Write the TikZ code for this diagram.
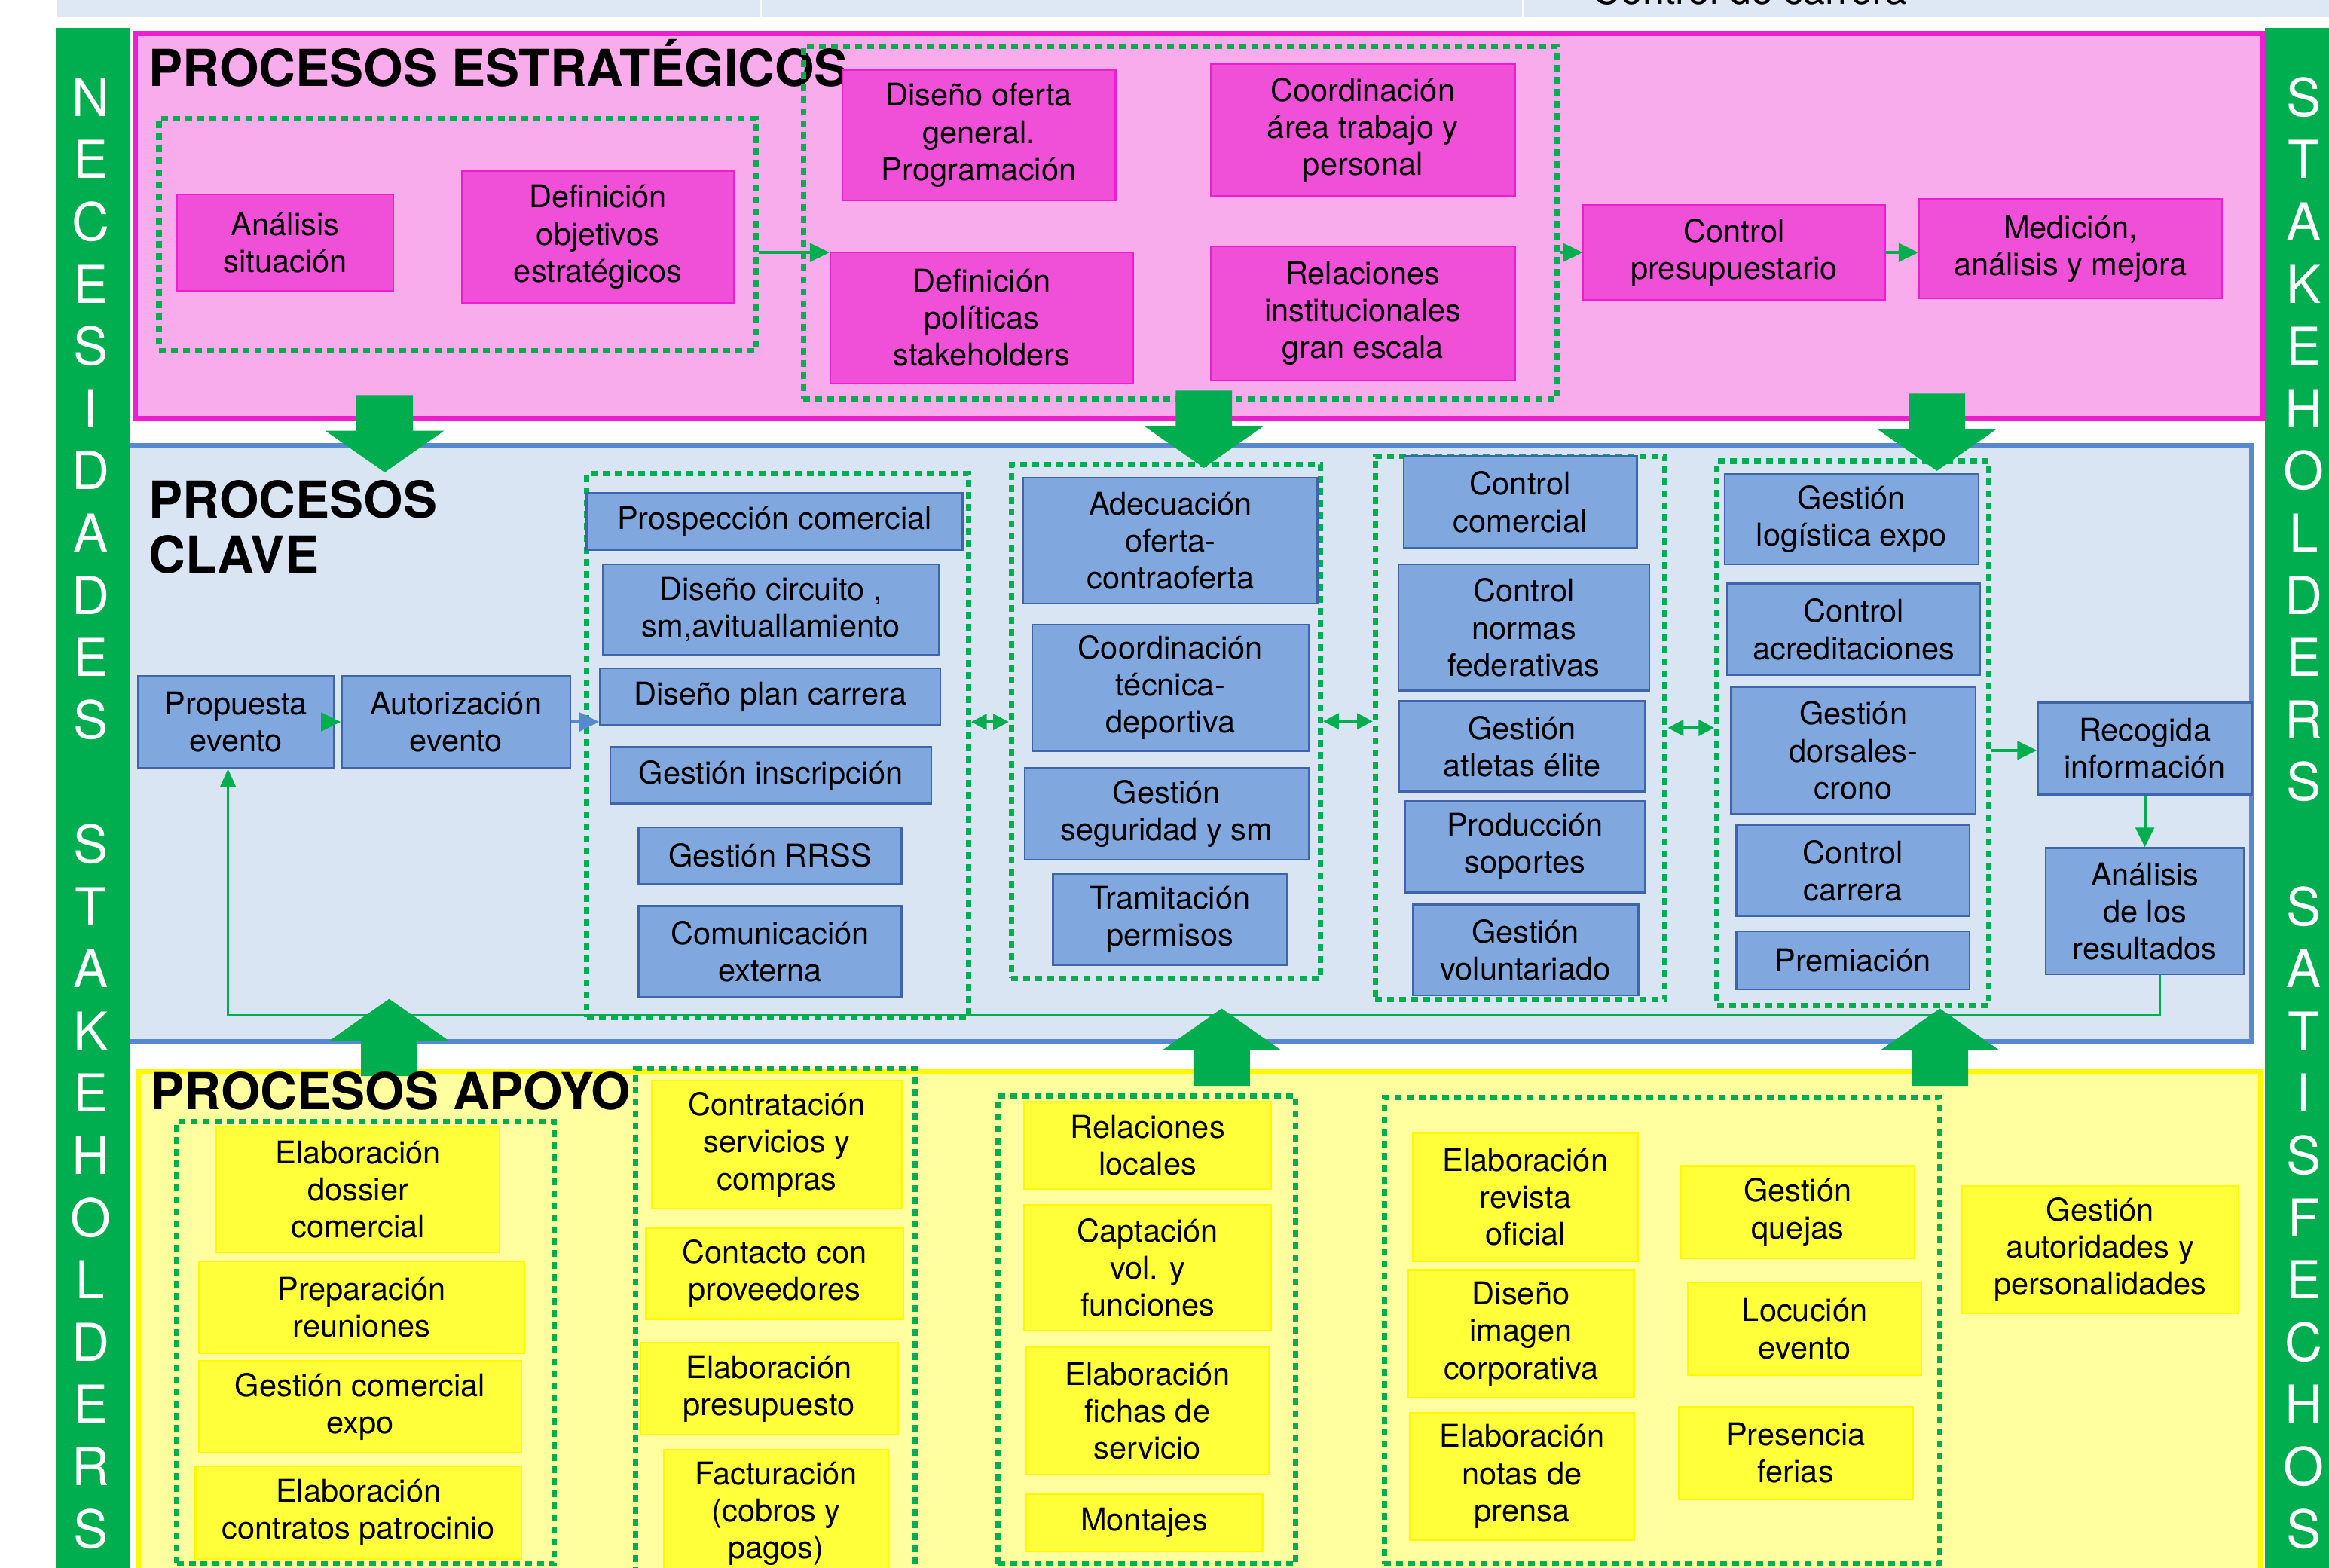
\documentclass[tikz,border=0pt]{standalone}
\usepackage{fontspec}
\setmainfont{TeX Gyre Heros}
\usetikzlibrary{arrows.meta,calc}

\definecolor{verde}{RGB}{0,173,79}
\definecolor{franja}{RGB}{221,232,244}
\definecolor{rosafondo}{RGB}{249,172,236}
\definecolor{rosaborde}{RGB}{238,30,206}
\definecolor{rosacaja}{RGB}{240,80,216}
\definecolor{azulfondo}{RGB}{218,229,243}
\definecolor{azulborde}{RGB}{87,137,209}
\definecolor{azulcaja}{RGB}{128,168,222}
\definecolor{azulfilo}{RGB}{62,100,170}
\definecolor{amarillofondo}{RGB}{255,255,160}
\definecolor{amarilloborde}{RGB}{255,248,0}
\definecolor{amarillocaja}{RGB}{255,255,58}

\tikzset{
	caja/.style={draw, align=center, inner sep=0pt, line width=0.6pt, font=\fontsize{12}{14.2}\selectfont},
	bx/.style 2 args={minimum width=#1*0.02cm, minimum height=#2*0.02cm},
	rosa/.style={caja, draw=rosaborde, fill=rosacaja},
	azul/.style={caja, draw=azulfilo, fill=azulcaja, line width=0.7pt},
	amarillo/.style={caja, draw=amarilloborde, fill=amarillocaja},
	punteado/.style={draw=verde, line width=2.1pt, dash pattern=on 2.6pt off 2pt, inner sep=0pt},
	titulo/.style={font=\fontsize{19.5}{21}\selectfont\bfseries, inner sep=0pt, align=left},
	letra/.style={white, font=\fontsize{20}{24}\selectfont, inner sep=0pt},
	flechita/.style={verde, line width=1.2pt, -{Triangle[length=7.5pt,width=7pt]}},
	flechaazul/.style={azulborde, line width=1.2pt, -{Triangle[length=7.5pt,width=7pt]}},
	doble/.style={verde, line width=1.2pt, {Triangle[length=6pt,width=6pt]}-{Triangle[length=6pt,width=6pt]}},
	retorno/.style={verde, line width=0.8pt, -{Triangle[length=7pt,width=6pt]}},
	bloque/.pic={\fill[verde] (-19,0) -- (19,0) -- (19,24) -- (40,24) -- (0,52) -- (-40,24) -- (-19,24) -- cycle;}
}

\begin{document}
\begin{tikzpicture}[x=0.02cm, y=-0.02cm]
		\useasboundingbox (0,0) rectangle (1568,1055.15);
		\clip (0,0) rectangle (1568,1055.15);
		
		% Top strip
		\fill[franja] (38,0) rectangle (1568,11);
		\draw[white, line width=1pt] (512,0) -- (512,11);
		\draw[white, line width=1pt] (1025.5,0) -- (1025.5,11);
		\node[anchor=base west, inner sep=0pt, font=\fontsize{15}{18}\selectfont] (franjatexto) at (1072,3) {Control de carrera};
		
		% Process areas
		\draw[rosaborde, fill=rosafondo, line width=2pt] (91,22.5) rectangle (1523.5,281.6);
		\draw[azulborde, fill=azulfondo, line width=1.8pt] (84,300) rectangle (1516,701);
		\draw[amarilloborde, fill=amarillofondo, line width=1.8pt] (93.5,721.5) rectangle (1522,1080);
		
		% Side bars
		\fill[verde] (37.5,19) rectangle (88,1060);
		\fill[verde] (1525,19) rectangle (1580,1060);
		\foreach \l [count=\i] in {N,E,C,E,S,I,D,A,D,E,S,,S,T,A,K,E,H,O,L,D,E,R,S} {
			\node[letra] (izq\i) at (61, 65.5+41.9*\i-41.9) {\l};
		}
		\foreach \l [count=\i] in {S,T,A,K,E,H,O,L,D,E,R,S,,S,A,T,I,S,F,E,C,H,O,S} {
			\node[letra] (der\i) at (1551, 65.5+41.9*\i-41.9) {\l};
		}
		
		% Procesos estrategicos
		\node[titulo, anchor=base west] (tituloE) at (100,58) {PROCESOS ESTRATÉGICOS};
		\node[punteado, bx={402}{156}] (grupoA) at (308,158) {};
		\node[punteado, bx={507}{237.5}] (grupoB) at (794.5,150) {};
		\node[rosa, bx={146}{65}] (analisis) at (192,163.5) {Análisis\\situación};
		\node[rosa, bx={183}{89}] (objetivos) at (402.5,159.5) {Definición\\objetivos\\estratégicos};
		\node[rosa, bx={184}{88}] (oferta) at (659,91) {Diseño oferta\\general.\\Programación};
		\node[rosa, bx={205}{89}] (coordarea) at (917.5,87.5) {Coordinación\\área trabajo y\\personal};
		\node[rosa, bx={204}{88}] (politicas) at (661,214) {Definición\\políticas\\stakeholders};
		\node[rosa, bx={205}{90}] (institucionales) at (917.5,211) {Relaciones\\institucionales\\gran escala};
		\node[rosa, bx={203}{64}] (control) at (1167.5,170) {Control\\presupuestario};
		\node[rosa, bx={204}{67}] (medicion) at (1394,167.5) {Medición,\\análisis y mejora};
		\draw[flechita] (grupoA.east |- control) -- (politicas.west |- control);
		\draw[flechita] (grupoB.east |- control) -- (control.west);
		\draw[flechita] (control.east) -- (medicion.west |- control.east);
		
		% Procesos clave
		\node[titulo, anchor=north west] (tituloC) at (100,323) {PROCESOS\\CLAVE};
		\node[punteado, bx={257}{366}] (grupoC) at (523.5,502) {};
		\node[punteado, bx={208}{346}] (grupoD) at (785,485.6) {};
		\node[punteado, bx={195}{366}] (grupoE) at (1023.5,490) {};
		\node[punteado, bx={183}{366.5}] (grupoF) at (1247.5,493.7) {};
		\node[azul, bx={132}{62}] (propuesta) at (159,486) {Propuesta\\evento};
		\node[azul, bx={154}{62}] (autorizacion) at (307,486) {Autorización\\evento};
		\node[azul, bx={253}{38}] (prospeccion) at (521.5,351) {Prospección comercial};
		\node[azul, bx={226}{61}] (circuito) at (519,410.5) {Diseño circuito ,\\sm,avituallamiento};
		\node[azul, bx={229}{38}] (plancarrera) at (518.5,469) {Diseño plan carrera};
		\node[azul, bx={216}{38}] (inscripcion) at (519,522) {Gestión inscripción};
		\node[azul, bx={177}{38}] (rrss) at (518.5,576) {Gestión RRSS};
		\node[azul, bx={177}{61}] (comunicacion) at (518.5,640.5) {Comunicación\\externa};
		\node[azul, bx={198}{84.5}] (adecuacion) at (788,364) {Adecuación\\oferta-\\contraoferta};
		\node[azul, bx={186}{85}] (coordtecnica) at (788,463) {Coordinación\\técnica-\\deportiva};
		\node[azul, bx={191}{61.5}] (seguridad) at (785.5,548) {Gestión\\seguridad y sm};
		\node[azul, bx={157.5}{61.5}] (permisos) at (787.7,619) {Tramitación\\permisos};
		\node[azul, bx={157}{62}] (ccomercial) at (1023.5,338) {Control\\comercial};
		\node[azul, bx={169}{85}] (normas) at (1026,422.5) {Control\\normas\\federativas};
		\node[azul, bx={165.5}{61}] (atletas) at (1024.7,502.5) {Gestión\\atletas élite};
		\node[azul, bx={161.5}{61.6}] (soportes) at (1026.7,570) {Producción\\soportes};
		\node[azul, bx={152}{61}] (voluntariado) at (1027,639.5) {Gestión\\voluntariado};
		\node[azul, bx={171}{61}] (logistica) at (1246.5,349.5) {Gestión\\logística expo};
		\node[azul, bx={170}{61.5}] (acreditaciones) at (1248,423.7) {Control\\acreditaciones};
		\node[azul, bx={164.5}{85.5}] (dorsales) at (1247.7,505.2) {Gestión\\dorsales-\\crono};
		\node[azul, bx={157}{61.5}] (ccarrera) at (1247.5,586.2) {Control\\carrera};
		\node[azul, bx={157}{39}] (premiacion) at (1247.5,646.5) {Premiación};
		\node[azul, bx={144}{62}] (recogida) at (1444,504) {Recogida\\información};
		\node[azul, bx={133.5}{85}] (resultados) at (1444,613.5) {Análisis\\de los\\resultados};
		\draw[flechita] (propuesta.east) -- (autorizacion.west);
		\draw[flechaazul] (autorizacion.east) -- (plancarrera.west |- autorizacion.east);
		\draw[doble] (grupoC.east |- autorizacion.east) -- (grupoD.west |- autorizacion.east);
		\draw[doble] (grupoD.east) -- (grupoE.west |- grupoD.east);
		\draw[doble] (grupoE.east) -- (grupoF.west |- grupoE.east);
		\draw[flechita] (grupoF.east |- dorsales.east) -- (recogida.west |- dorsales.east);
		\draw[flechita] (recogida.south) -- (resultados.north);
		\draw[retorno] ($(resultados.south)+(10,0)$) -- ++(0,27) -| ($(propuesta.south)+(-5.5,0)$);
		
		% Procesos apoyo
		\node[punteado, bx={254}{298}] (grupoG) at (246,904) {};
		\node[punteado, bx={188}{355.4}] (grupoH) at (522,897.3) {};
		\node[punteado, bx={200.4}{315}] (grupoI) at (772.2,895.5) {};
		\node[punteado, bx={374}{314}] (grupoJ) at (1119,896) {};
		\node[amarillo, bx={190.5}{84.5}] (dossier) at (241,800.7) {Elaboración\\dossier\\comercial};
		\node[amarillo, bx={219}{62}] (reuniones) at (243.5,880) {Preparación\\reuniones};
		\node[amarillo, bx={217}{62}] (comexpo) at (242.5,947) {Gestión comercial\\expo};
		\node[amarillo, bx={219.3}{62.6}] (contratos) at (241.3,1018.3) {Elaboración\\contratos patrocinio};
		\node[amarillo, bx={168}{86}] (contratacion) at (523,770.5) {Contratación\\servicios y\\compras};
		\node[amarillo, bx={173}{61.4}] (proveedores) at (521.5,857.3) {Contacto con\\proveedores};
		\node[amarillo, bx={173.5}{62}] (presupuesto) at (517.7,935) {Elaboración\\presupuesto};
		\node[amarillo, bx={151}{86}] (facturacion) at (522.5,1019) {Facturación\\(cobros y\\pagos)};
		\node[amarillo, bx={166.5}{59}] (rlocales) at (772.7,771) {Relaciones\\locales};
		\node[amarillo, bx={166.5}{85}] (captacion) at (772.7,853.5) {Captación\\vol. y\\funciones};
		\node[amarillo, bx={163.8}{85.6}] (fichas) at (772.6,949.8) {Elaboración\\fichas de\\servicio};
		\node[amarillo, bx={159.3}{38.6}] (montajes) at (770.3,1025.3) {Montajes};
		\node[amarillo, bx={152}{86}] (revista) at (1027,806) {Elaboración\\revista\\oficial};
		\node[amarillo, bx={152}{86}] (imagen) at (1024,898) {Diseño\\imagen\\corporativa};
		\node[amarillo, bx={151.5}{86}] (notas) at (1024.7,994) {Elaboración\\notas de\\prensa};
		\node[amarillo, bx={157.4}{62}] (quejas) at (1210.3,816) {Gestión\\quejas};
		\node[amarillo, bx={157}{62.5}] (locucion) at (1215,894.7) {Locución\\evento};
		\node[amarillo, bx={158}{62.6}] (ferias) at (1209,978.3) {Presencia\\ferias};
		\node[amarillo, bx={186}{85.4}] (autoridades) at (1414,841.3) {Gestión\\autoridades y\\personalidades};
		
		% Block arrows
		\pic at (259,266) {bloque};
		\pic at (810.5,263) {bloque};
		\pic at (1304,265) {bloque};
		\pic[rotate=180] at (262,724.5) {bloque};
		\pic[rotate=180] at (822.5,731) {bloque};
		\pic[rotate=180] at (1306,731) {bloque};
		\node[titulo, anchor=base west] (tituloA) at (101,747) {PROCESOS APOYO};
	\end{tikzpicture}
\end{document}
